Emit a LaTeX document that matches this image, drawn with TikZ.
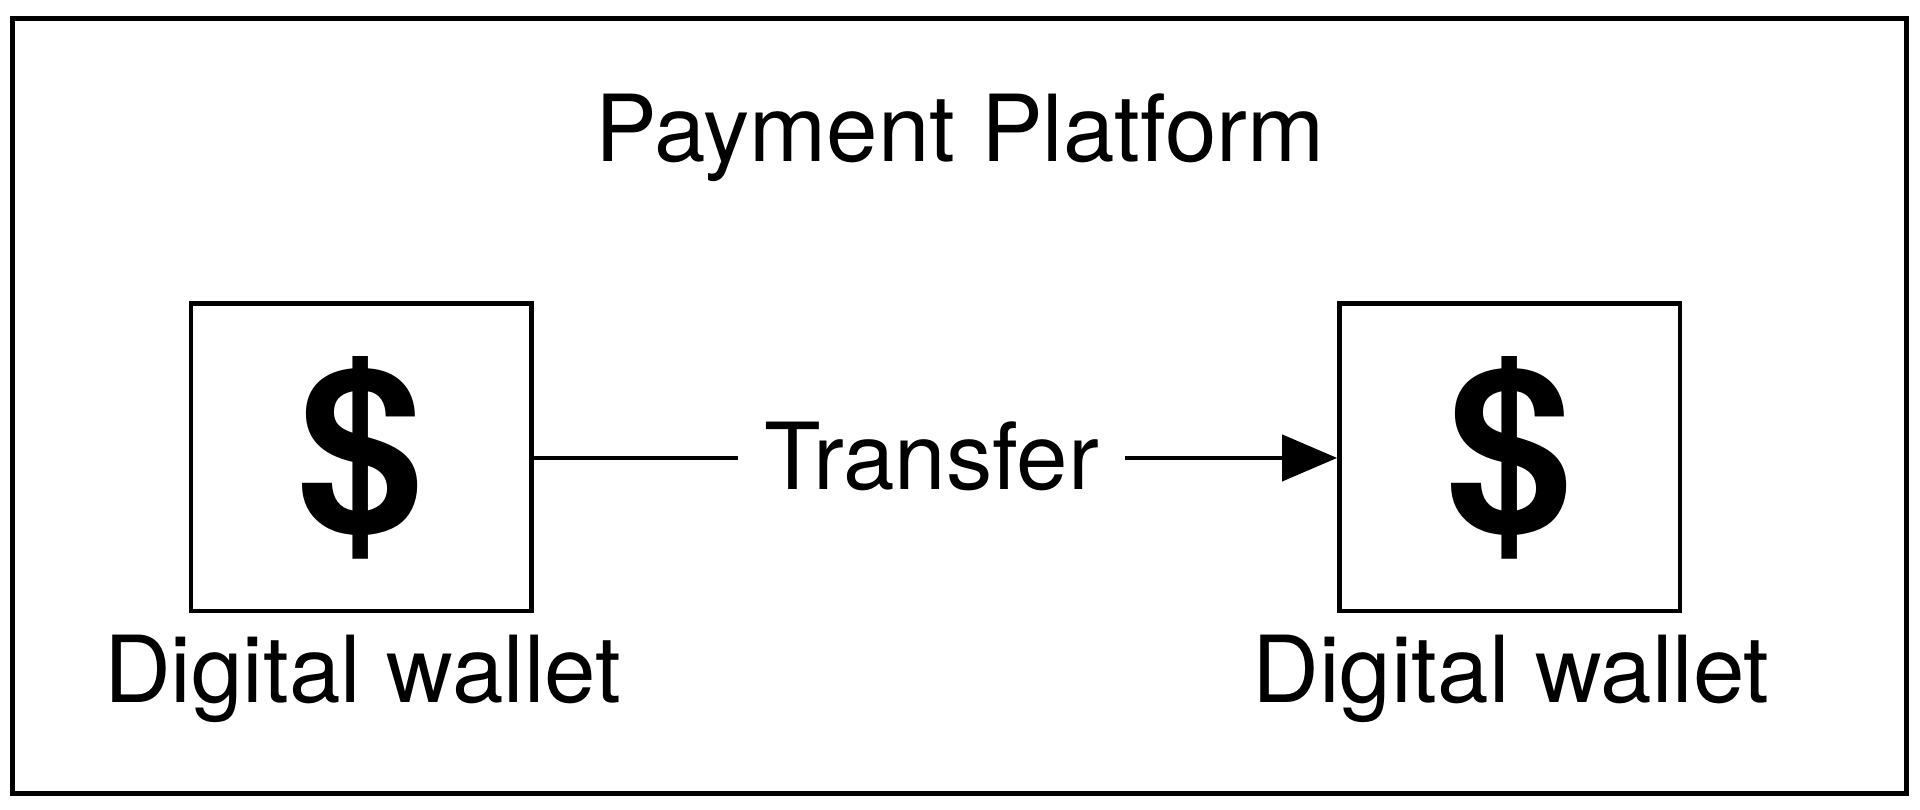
\documentclass[tikz,border=0pt]{standalone}
\usepackage{fontspec}
\setmainfont{TeX Gyre Heros}
\usetikzlibrary{arrows.meta}
\begin{document}
\begin{tikzpicture}[x=0.02cm,y=-0.02cm,
  frame/.style={draw,line width=2.2pt},
  lbl/.style={font=\fontsize{43}{50}\selectfont, inner sep=0pt},
  dollar/.style={font=\fontsize{106}{120}\selectfont\bfseries, inner sep=0pt}]
\useasboundingbox (0,0) rectangle (1568,661);
\draw[frame] (10,15) rectangle (1557,648);
\node[lbl,anchor=base] (title) at (784,132) {Payment Platform};
\draw[frame] (156,248) rectangle (434,499);
\coordinate (lw) at (434,374);
\draw[frame] (1094,248) rectangle (1372,499);
\coordinate (rw) at (1092,374);
\node[dollar] (d1) at (295,374) {\$};
\node[dollar] (d2) at (1233,374) {\$};
\node[lbl,anchor=base] (l1) at (296,574) {Digital wallet};
\node[lbl,anchor=base] (l2) at (1234,574) {Digital wallet};
\node[lbl,anchor=base,inner xsep=12pt] (tr) at (761,400) {Transfer};
\draw[line width=2.2pt] (lw) -- (lw -| tr.west);
\draw[line width=2.2pt,-{Triangle[length=0.9cm,width=0.75cm]}] (rw -| tr.east) -- (rw);
\end{tikzpicture}
\end{document}
